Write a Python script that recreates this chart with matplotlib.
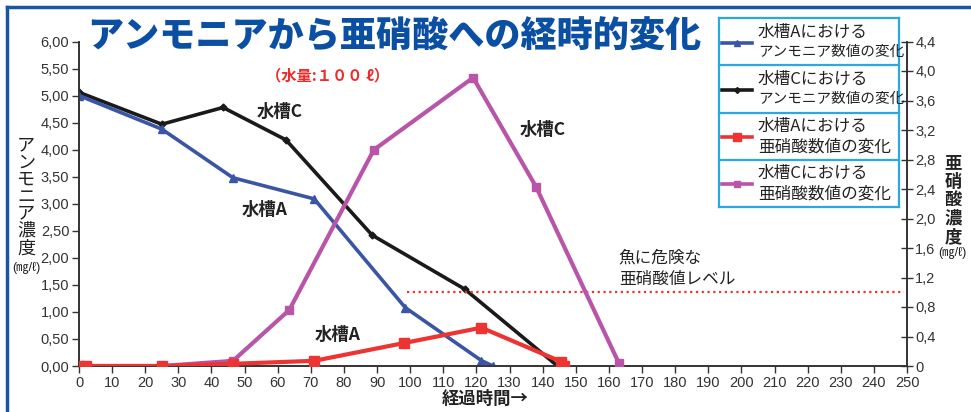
import matplotlib
matplotlib.use("Agg")
import matplotlib.pyplot as plt
from matplotlib.lines import Line2D

plt.rcParams['font.family'] = ['Noto Sans CJK JP', 'DejaVu Sans']

# ---------------- data ----------------
# ammonia (left axis, mg/l)
amm_a_x = [0, 25, 46.5, 71, 98.5, 121.5, 125]
amm_a_y = [5.0, 4.38, 3.48, 3.09, 1.08, 0.10, 0.0]
amm_c_x = [0, 25, 43.5, 62.5, 88.5, 116.5, 144.5]
amm_c_y = [5.06, 4.47, 4.78, 4.18, 2.42, 1.42, 0.0]
# nitrite (right axis, mg/l)
nit_a_x = [0, 2, 25, 46.5, 71, 98, 121.5, 145.5, 146.5]
nit_a_y = [0.0, 0.0, 0.0, 0.03, 0.07, 0.31, 0.52, 0.06, 0.0]
nit_c_x = [0, 25, 46.5, 63.5, 89, 119, 138, 163]
nit_c_y = [0.0, 0.0, 0.07, 0.76, 2.93, 3.91, 2.43, 0.04]
danger_level = 1.0
danger_x = [99, 249]

x_ticks = list(range(0, 251, 10))
left_ticks = [0, 0.5, 1, 1.5, 2, 2.5, 3, 3.5, 4, 4.5, 5, 5.5, 6]
left_labels = ['0,00', '0,50', '1,00', '1,50', '2,00', '2,50', '3,00',
               '3,50', '4,00', '4,50', '5,00', '5,50', '6,00']
right_ticks = [0, 0.4, 0.8, 1.2, 1.6, 2.0, 2.4, 2.8, 3.2, 3.6, 4.0, 4.4]
right_labels = ['0', '0,4', '0,8', '1,2', '1,6', '2,0', '2,4', '2,8',
                '3,2', '3,6', '4,0', '4,4']

legend_rows = [
    ('水槽Aにおける', 'アンモニア数値の変化', '#3a55a5', '^', 4),
    ('水槽Cにおける', 'アンモニア数値の変化', '#1a1a1a', 'D', 3),
    ('水槽Aにおける', '亜硝酸数値の変化', '#ee3333', 's', 6),
    ('水槽Cにおける', '亜硝酸数値の変化', '#b955a8', 's', 5),
]

blue = '#3a55a5'
black = '#1a1a1a'
red = '#ee3333'
purple = '#b955a8'
tick_font = ['Liberation Sans Narrow', 'Liberation Sans', 'DejaVu Sans']

fig = plt.figure(figsize=(9.71, 4.12), dpi=100)
W, H = 971.0, 412.0
ax = fig.add_axes([79 / W, 1 - 366 / H, 828 / W, (366 - 41.5) / H])
ax2 = ax.twinx()

ax.plot(amm_c_x, amm_c_y, color=black, lw=2.6, marker='D', ms=3.5, zorder=3)
ax.plot(amm_a_x, amm_a_y, color=blue, lw=2.6, marker='^', ms=5.5, zorder=4)
ax2.plot(nit_c_x, nit_c_y, color=purple, lw=3, marker='s', ms=6, zorder=3)
ax2.plot(nit_a_x, nit_a_y, color=red, lw=3, marker='s', ms=7, zorder=4)
ax2.plot(danger_x, [danger_level, danger_level], color=red, lw=1.6,
         linestyle=(0, (1, 1.6)), zorder=2)

ax.set_xlim(0, 250)
ax.set_ylim(0, 6)
ax2.set_ylim(0, 4.4)
ax.set_xticks(x_ticks)
ax.set_xticklabels([str(v) for v in x_ticks], family=tick_font, fontsize=10.5)
ax.set_yticks(left_ticks)
ax.set_yticklabels(left_labels, family=tick_font, fontsize=10.5)
ax2.set_yticks(right_ticks)
ax2.set_yticklabels(right_labels, family=tick_font, fontsize=10.5)
ax.tick_params(axis='both', direction='out', length=5, width=1, color='#333333',
               labelcolor='#333333', pad=2)
ax2.tick_params(axis='y', direction='inout', length=8, width=1, color='#333333',
                labelcolor='#333333', pad=2)

for a in (ax, ax2):
    a.spines['top'].set_visible(False)
    for s in ('left', 'right', 'bottom'):
        a.spines[s].set_color('#333333')
        a.spines[s].set_linewidth(1.2)

# annotations inside the plot
ax.text(60.5, 4.7, '水槽C', fontsize=12.5, fontweight='bold', color='#222222',
        ha='center', va='center')
ax.text(56, 2.89, '水槽A', fontsize=12.5, fontweight='bold', color='#222222',
        ha='center', va='center')
ax.text(78, 0.57, '水槽A', fontsize=12.5, fontweight='bold', color='#222222',
        ha='center', va='center')
ax.text(140, 4.37, '水槽C', fontsize=12.5, fontweight='bold', color='#222222',
        ha='center', va='center')
ax.text(163, 2.0, '魚に危険な', fontsize=12, color='#222222', ha='left', va='center')
ax.text(163, 1.6, '亜硝酸値レベル', fontsize=12, color='#222222', ha='left', va='center')

# title and subtitle
fig.text(394 / W, 1 - 36 / H, 'アンモニアから亜硝酸への経時的変化', fontsize=26,
         fontweight='black', color='#0b4fa3', ha='center', va='center')
fig.text(328 / W, 1 - 75 / H, '（水量:１００ ℓ）', fontsize=11, fontweight='bold',
         color='#ee2a2a', ha='center', va='center')

# x label
fig.text(485 / W, 1 - 399 / H, '経過時間→', fontsize=12.5, fontweight='bold',
         color='#222222', ha='center', va='center')

# vertical axis labels
for i, ch in enumerate('アンモニア濃度'):
    fig.text(26 / W, 1 - (145 + i * 17.2) / H, ch, fontsize=13, color='#222222',
             ha='center', va='center')
fig.text(26 / W, 1 - 268 / H, '(㎎/ℓ)', fontsize=9, color='#222222',
         ha='center', va='center', family=tick_font + ['Noto Sans CJK JP'])
for i, ch in enumerate('亜硝酸濃度'):
    fig.text(953 / W, 1 - (163 + i * 18.5) / H, ch, fontsize=12.5, fontweight='bold',
             color='#222222', ha='center', va='center')
fig.text(952 / W, 1 - 253 / H, '(㎎/ℓ)', fontsize=9, color='#222222',
         ha='center', va='center', family=tick_font + ['Noto Sans CJK JP'])

# legend drawn as a boxed table
lg = fig.add_axes([719 / W, 1 - 207 / H, 180 / W, 189 / H])
lg.set_xlim(0, 180)
lg.set_ylim(189, 0)
lg.set_xticks([])
lg.set_yticks([])
for s in lg.spines.values():
    s.set_color('#2aa8e0')
    s.set_linewidth(1.6)
row_h = 189 / 4.0
for i, (l1, l2, col, mk, ms) in enumerate(legend_rows):
    y0 = i * row_h
    if i > 0:
        lg.plot([0, 180], [y0, y0], color='#2aa8e0', lw=1.6, clip_on=False)
    lg.plot([3, 33], [y0 + 24.5, y0 + 24.5], color=col, lw=2.6, marker=None)
    lg.plot([18], [y0 + 24.5], color=col, marker=mk, ms=ms, lw=0)
    lg.text(39, y0 + 14, l1, fontsize=12, color='#222222', ha='left', va='center')
    lg.text(39, y0 + 34, l2, fontsize=10.5 if 'アンモニア' in l2 else 12,
            color='#222222', ha='left', va='center')

# blue frame around the figure
fig.add_artist(Line2D([7 / W, 1], [1 - 7 / H, 1 - 7 / H], color='#1b55a5', lw=2.5,
                      transform=fig.transFigure))
fig.add_artist(Line2D([7 / W, 7 / W], [0, 1 - 7 / H], color='#1b55a5', lw=2.5,
                      transform=fig.transFigure))

fig.savefig('out.png', dpi=100)
